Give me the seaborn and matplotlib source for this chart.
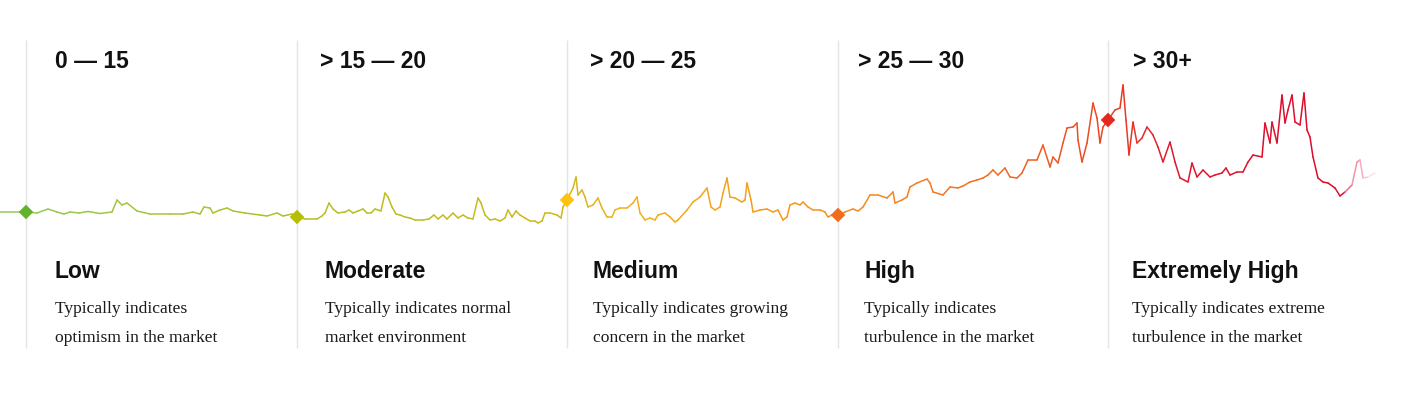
import numpy as np
import pandas as pd
import matplotlib
matplotlib.use('Agg')
import matplotlib.pyplot as plt
import seaborn as sns
from matplotlib.collections import LineCollection
from matplotlib.colors import LinearSegmentedColormap

sns.set_style('white')

# index path (day, level)
day = [0, 26, 37, 48, 57, 64, 70, 79, 88, 100, 112, 117, 122, 127, 137, 150, 170, 183, 193, 200,
       204, 210, 213, 220, 227, 233, 245, 260, 267, 277, 283, 292, 297,
       305, 317, 322, 325, 329, 333, 338, 345, 349, 353, 358, 363, 367, 371, 375, 381, 385, 388,
       392, 396, 400, 405, 410, 415, 423, 429, 434, 438, 443, 447, 453, 458, 463, 468, 473, 478,
       481, 485, 490, 495, 500, 505, 508, 512, 516, 520, 525, 530, 535, 538, 542, 545, 550, 557,
       561, 563, 567,
       573, 576, 578, 582, 585, 588, 593, 598, 602, 607, 612, 615, 620, 627, 633, 637, 640, 645,
       650, 655, 658, 665, 670, 675, 678, 687, 693, 700, 707, 711, 715, 720, 723, 727, 730, 735,
       742, 745, 747, 751, 753, 760, 767, 773, 778, 783, 787, 790, 795, 800, 803, 808, 813, 820,
       825, 828, 832, 838,
       845, 853, 858, 863, 870, 878, 887, 893, 895, 902, 907, 910, 917, 927, 930, 933, 943, 950,
       958, 963, 970, 977, 983, 988, 993, 998, 1005, 1010, 1017, 1022, 1028, 1037, 1043, 1050,
       1053, 1058, 1063, 1067, 1073, 1077, 1078, 1082, 1087, 1093, 1097, 1100, 1103, 1108,
       1115, 1120, 1123, 1126, 1129, 1133, 1137, 1142, 1147, 1153, 1158, 1163, 1170, 1175, 1180,
       1188, 1192, 1197, 1203, 1210, 1215, 1222, 1226, 1230, 1237, 1243, 1248, 1253, 1262, 1265,
       1270, 1272, 1277, 1282, 1285, 1288, 1292, 1295, 1300, 1304, 1307, 1310, 1313, 1318, 1323,
       1328, 1335, 1340, 1345, 1352, 1357, 1360, 1363, 1368, 1375]
level = [18, 18, 17, 21, 18, 16, 18, 17, 18.5, 16.5, 18, 30, 25, 27, 19, 16, 16, 16, 18, 16,
         23, 22, 17, 20, 22, 19, 17, 15, 14, 17, 14, 16, 13,
         11, 11, 14, 17, 27, 21, 17, 18, 20, 17, 19, 21, 17, 17, 21, 19, 37, 33,
         23, 16, 15, 13, 12, 10, 10, 11, 15, 11, 15, 11, 17, 12, 15, 12, 11, 32,
         27, 15, 10, 11, 9, 12, 20, 13, 19, 15, 12, 9, 9, 7, 9, 17, 17, 15,
         12, 23, 30,
         42, 53, 35, 40, 33, 23, 25, 32, 22, 13, 13, 20, 22, 22, 27, 33, 17, 10,
         12, 10, 15, 17, 13, 8, 10, 20, 28, 33, 42, 23, 20, 23, 37, 52, 33, 32,
         28, 30, 47, 30, 18, 20, 21, 18, 20, 10, 13, 25, 27, 25, 28, 23, 20, 20,
         18, 13, 15, 15,
         18, 21, 19, 23, 35, 35, 32, 38, 27, 30, 33, 43, 47, 51, 47, 38, 35, 43,
         42, 44, 48, 50, 52, 55, 60, 55, 62, 53, 52, 57, 70, 70, 85, 63,
         73, 67, 87, 102, 103, 107, 90, 68, 87, 127, 112, 87, 103, 110,
         120, 122, 145, 110, 75, 108, 87, 92, 103, 95, 83, 68, 88, 68, 52,
         48, 67, 53, 60, 53, 55, 57, 62, 55, 58, 58, 68, 75, 73, 107,
         87, 108, 87, 135, 107, 120, 135, 108, 105, 137, 100, 93, 73, 52, 48,
         47, 42, 34, 38, 45, 68, 70, 52, 53, 57]

# zone boundaries
zone_start = [26, 297, 567, 838, 1108]
zone_level = [18, 13, 30, 15, 110]
zone_colors = ['#62b22f', '#b5bf00', '#ffc20e', '#f26a1b', '#e5281e']
ranges = ['0 — 15', '> 15 — 20', '> 20 — 25', '> 25 — 30', '> 30+']
names = ['Low', 'Moderate', 'Medium', 'High', 'Extremely High']
notes = ['Typically indicates\noptimism in the market',
         'Typically indicates normal\nmarket environment',
         'Typically indicates growing\nconcern in the market',
         'Typically indicates\nturbulence in the market',
         'Typically indicates extreme\nturbulence in the market']

# colour stops along the path
stop_day = [0, 290, 560, 620, 838, 1000, 1108, 1180, 1342, 1357, 1375]
stop_col = ['#93cb55', '#b2c026', '#cfb81c', '#efb21c', '#f7901e', '#f26a22', '#eb4424',
            '#e0152e', '#dc0a2c', '#f08aa2', '#fbe3e8']

fig = plt.figure(figsize=(14.24, 3.99), dpi=100)
ax = fig.add_axes([0, 0, 1, 1])
ax.set_xlim(0, 1424)
ax.set_ylim(-169, 230)
ax.axis('off')

# zone dividers
ax.vlines(zone_start, -118, 190, color='#e4e4e4', lw=1, zorder=1)

# gradient line
x = np.array(day, dtype=float)
y = np.array(level, dtype=float)
pts = np.column_stack([x, y]).reshape(-1, 1, 2)
segs = np.concatenate([pts[:-1], pts[1:]], axis=1)
cmap = LinearSegmentedColormap.from_list(
    'vix', list(zip(np.array(stop_day) / stop_day[-1], stop_col)))
mid = (x[:-1] + x[1:]) / 2 / stop_day[-1]
lc = LineCollection(segs, colors=cmap(mid), linewidths=1.1, capstyle='round', zorder=2)
ax.add_collection(lc)

# boundary markers
marks = pd.DataFrame({'day': zone_start, 'level': zone_level, 'zone': names})
sns.scatterplot(data=marks, x='day', y='level', hue='zone', palette=zone_colors,
                marker='D', s=55, edgecolor='none', legend=False, ax=ax, zorder=3)

head_off = [29, 23, 23, 20, 25]
text_off = [29, 28, 26, 26, 24]
for i in range(5):
    x0 = zone_start[i]
    ax.text(x0 + head_off[i], 162, ranges[i], fontsize=16.5, fontweight='bold',
            family='Liberation Sans', va='baseline', ha='left', color='#111111')
    ax.text(x0 + text_off[i], -48, names[i], fontsize=16.5, fontweight='bold',
            family='Liberation Sans', va='baseline', ha='left', color='#111111')
    ax.text(x0 + text_off[i], -71, notes[i], fontsize=12.6, family='Liberation Serif',
            va='top', ha='left', linespacing=2.05, color='#1a1a1a')

fig.savefig('out.png', dpi=100, facecolor='white')
